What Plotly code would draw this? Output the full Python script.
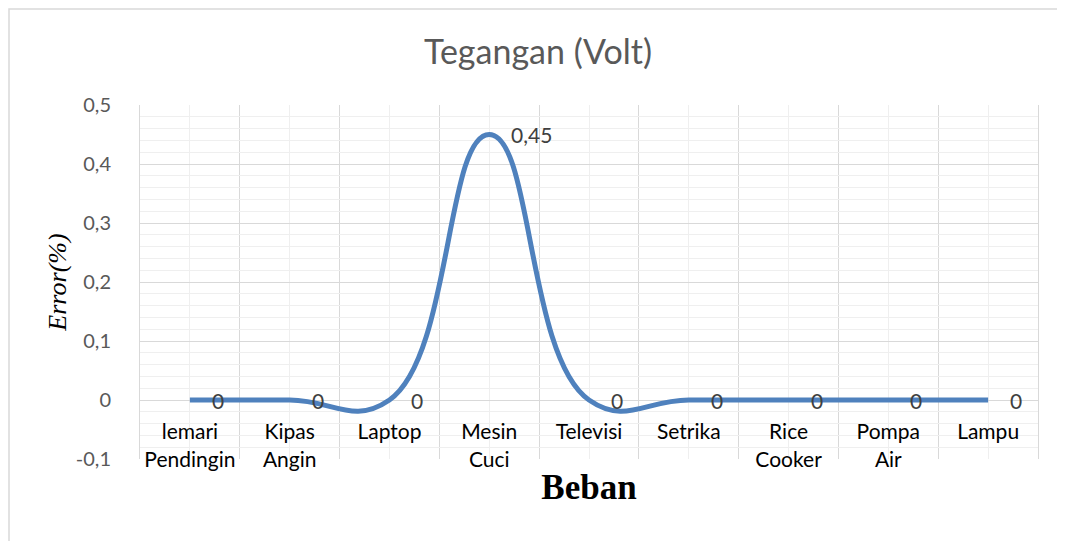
import plotly.graph_objects as go

# ---- data ----
categories = ["lemari Pendingin", "Kipas Angin", "Laptop", "Mesin Cuci", "Televisi",
              "Setrika", "Rice Cooker", "Pompa Air", "Lampu"]
error_values = [0, 0, 0, 0.45, 0, 0, 0, 0, 0]
value_labels = ["0", "0", "0", "0,45", "0", "0", "0", "0", "0"]
y_tick_values = [-0.1, 0, 0.1, 0.2, 0.3, 0.4, 0.5]
y_tick_labels = ["-0,1", "0", "0,1", "0,2", "0,3", "0,4", "0,5"]

# ---- layout constants (page body has an 8px margin) ----
OFF = 8
W, H = 1065 - OFF, 541 - OFF
ML, MR, MT, MB = 140 - OFF, 27, 105 - OFF, 82
Y_MIN, Y_MAX = -0.1, 0.5
PW, PH = W - ML - MR, H - MT - MB

x_idx = list(range(len(categories)))
tick_text = [c.replace(" ", "<br>") for c in categories]
boundaries = [i - 0.5 for i in range(len(categories) + 1)]

SANS = "Lato, 'Open Sans', sans-serif"
SERIF = "'Liberation Serif', 'Times New Roman', serif"

fig = go.Figure()
fig.add_trace(go.Scatter(
    x=x_idx, y=error_values, mode="lines",
    line=dict(color="#4f81bd", width=5, shape="spline", smoothing=1.3),
    showlegend=False, hoverinfo="skip", cliponaxis=False,
))

annotations = []
for i, (v, lab) in enumerate(zip(error_values, value_labels)):
    annotations.append(dict(
        x=i, y=v, xref="x", yref="y", text=lab, showarrow=False,
        xanchor="left", yanchor="middle", xshift=20,
        font=dict(family=SANS, size=21, color="#404040"),
    ))

fig.update_layout(
    width=W, height=H,
    margin=dict(l=ML, r=MR, t=MT, b=MB, pad=0),
    paper_bgcolor="white", plot_bgcolor="white",
    title=dict(text="Tegangan (Volt)", x=(538 - OFF) / W, xanchor="center",
               y=1 - (52 - OFF) / H, yanchor="middle",
               font=dict(family=SANS, size=34, color="#595959")),
    xaxis=dict(
        range=[-0.5, len(categories) - 0.5],
        tickmode="array", tickvals=x_idx, ticktext=tick_text,
        anchor="free", position=(0 - Y_MIN) / (Y_MAX - Y_MIN),
        showgrid=True, gridcolor="#efefef", gridwidth=1,
        minor=dict(tickmode="array", tickvals=boundaries, showgrid=True,
                   gridcolor="#d9d9d9", gridwidth=1, ticks=""),
        ticks="", showline=True, linecolor="#d9d9d9", linewidth=1,
        zeroline=False, layer="below traces",
        tickfont=dict(family=SANS, size=21, color="#000000"),
        ticklabelstandoff=13,
        title=dict(text="Beban", standoff=4,
                   font=dict(family=SERIF, size=35, color="#000000", weight="bold")),
    ),
    yaxis=dict(
        range=[Y_MIN, Y_MAX],
        tickmode="array", tickvals=y_tick_values, ticktext=y_tick_labels,
        showgrid=True, gridcolor="#d9d9d9", gridwidth=1,
        minor=dict(tickmode="linear", tick0=0, dtick=0.02, showgrid=True,
                   gridcolor="#efefef", gridwidth=1, ticks=""),
        zeroline=False, showline=True, mirror=True, linecolor="#d9d9d9", linewidth=1,
        layer="below traces",
        ticks="", ticklabelstandoff=24,
        tickfont=dict(family=SANS, size=20, color="#595959"),
        title=dict(text="Error(%)", standoff=1,
                   font=dict(family=SERIF, size=26, color="#000000", style="italic")),
    ),
    annotations=annotations,
    shapes=[dict(
        type="rect", xref="paper", yref="paper", layer="below",
        x0=(-ML + 1) / PW, x1=(W + 5 - ML) / PW,
        y0=-(MB + 5) / PH, y1=1 + (MT - 1) / PH,
        line=dict(color="#d9d9d9", width=1.5),
    )],
)

fig.write_html("out.html")
